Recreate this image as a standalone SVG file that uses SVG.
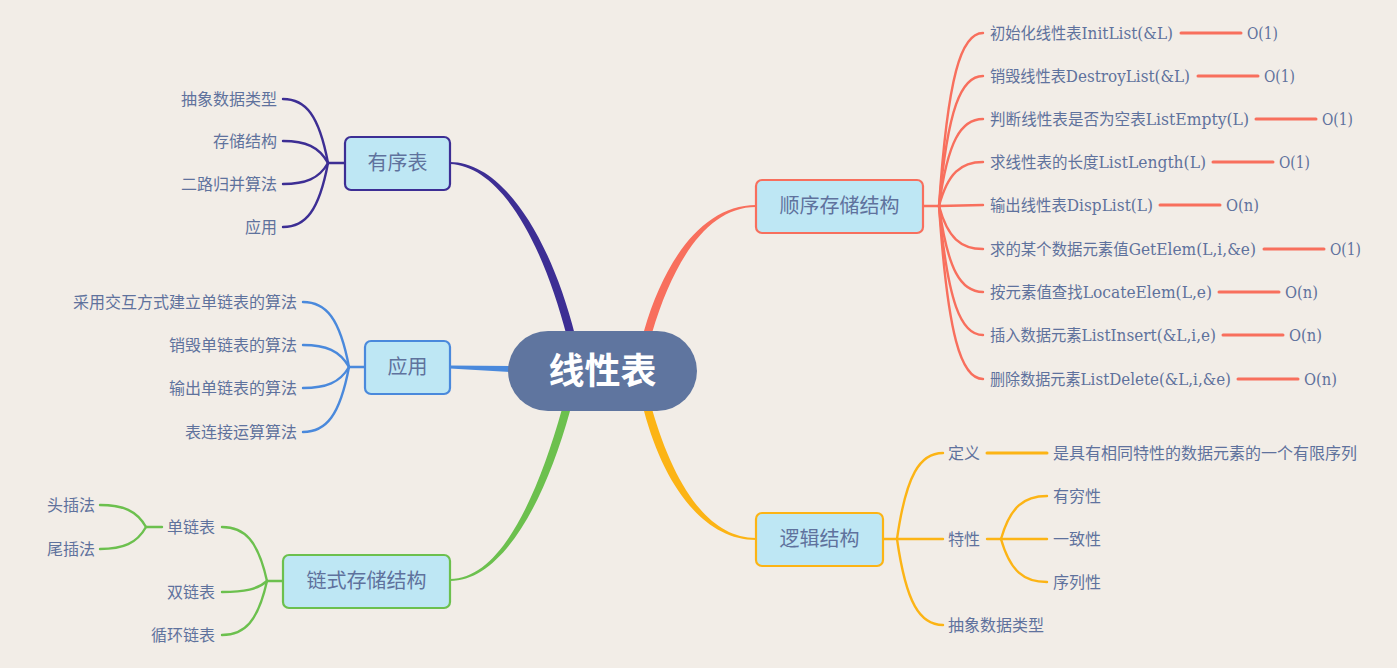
<svg xmlns="http://www.w3.org/2000/svg" width="1397" height="668" viewBox="0 0 1397 668">
<style>
.lbl{font-family:"Noto Sans CJK SC","Noto Sans",sans-serif;font-size:16px;fill:#5f729d}
.lat{font-family:"DejaVu Serif","Noto Sans CJK SC",serif;font-size:16px;fill:#5f729d}
.ntx{font-family:"Noto Sans CJK SC","Noto Sans",sans-serif;font-size:20px;fill:#5f729d;text-anchor:middle}
.end{text-anchor:end}
.node{fill:#bee7f4;stroke-width:2.2}
.c{fill:none;stroke-width:2.4;stroke-linecap:round}
.h{stroke-width:3}
.pu{stroke:#3d2e94}.bl{stroke:#4a89dc}.gr{stroke:#6cc04e}.co{stroke:#f86f5d}.or{stroke:#fcb415}
</style>
<rect width="1397" height="668" fill="#f2ede7"/>
<g id="connectors">
  <!-- main branches -->
  <path d="M450,162 C501,162 549,233 575,335 L567,337 C541,237 499,166 450,164 Z" fill="#3d2e94"/>
  <path d="M450,365.5 L512,366 L512,372 L450,368.5 Z" fill="#4a89dc"/>
  <path d="M450,581 C502,581 545,502 570,411 L562,409 C537,498 500,579 450,579 Z" fill="#6cc04e"/>
  <path d="M756,205 C704,205 665,258 644,331 L652,333 C673,262 707,207 756,207 Z" fill="#f86f5d"/>
  <path d="M756,540 C704,540 664,486 644,411 L652,409 C673,482 707,538 756,538 Z" fill="#fcb415"/>
  <!-- 有序表 children -->
  <g class="c pu">
    <path d="M345,163 L328,163"/>
    <path d="M328,163 C319,115 305.5,99 283,99"/>
    <path d="M328,163 C319,146.5 305.5,141 283,141"/>
    <path d="M328,163 C319,178.75 305.5,184 283,184"/>
    <path d="M328,163 C319,211 305.5,227 283,227"/>
  </g>
  <!-- 应用 children -->
  <g class="c bl">
    <path d="M365,367 L349,367"/>
    <path d="M349,367 C339.8,318.25 326,302 303,302"/>
    <path d="M349,367 C339.8,350.5 326,345 303,345"/>
    <path d="M349,367 C339.8,382.75 326,388 303,388"/>
    <path d="M349,367 C339.8,415.75 326,432 303,432"/>
  </g>
  <!-- 链式存储结构 children -->
  <g class="c gr">
    <path d="M283,581 L267,581"/>
    <path d="M267,581 C258,540.5 244.5,527 222,527"/>
    <path d="M267,581 C258,589.25 244.5,592 222,592"/>
    <path d="M267,581 C258,621.5 244.5,635 222,635"/>
    <path d="M162,527 L146,527"/>
    <path d="M146,527 C136.8,510.5 123,505 100,505"/>
    <path d="M146,527 C136.8,543.5 123,549 100,549"/>
  </g>
  <!-- 顺序存储结构 children -->
  <g class="c co">
    <path d="M923,206 L939,206"/>
    <path d="M939,206 C947.8,76.25 961,33 983,33"/>
    <path d="M939,206 C947.8,108.5 961,76 983,76"/>
    <path d="M939,206 C947.8,140.75 961,119 983,119"/>
    <path d="M939,206 C947.8,173 961,162 983,162"/>
    <path d="M939,206 L983,205"/>
    <path d="M939,206 C947.8,238.25 961,249 983,249"/>
    <path d="M939,206 C947.8,270.5 961,292 983,292"/>
    <path d="M939,206 C947.8,302.75 961,335 983,335"/>
    <path d="M939,206 C947.8,335.75 961,379 983,379"/>
    <path class="h" d="M1181,33 H1241"/>
    <path class="h" d="M1198,76 H1258"/>
    <path class="h" d="M1256,119 H1316"/>
    <path class="h" d="M1213,162 H1273"/>
    <path class="h" d="M1160,205 H1220"/>
    <path class="h" d="M1264,249 H1324"/>
    <path class="h" d="M1219,292 H1279"/>
    <path class="h" d="M1223,335 H1283"/>
    <path class="h" d="M1238,379 H1298"/>
  </g>
  <!-- 逻辑结构 children -->
  <g class="c or">
    <path d="M883,539 L897,539"/>
    <path d="M897,539 C906.2,474.5 920,453 943,453"/>
    <path d="M897,539 L943,539"/>
    <path d="M897,539 C906.2,603.5 920,625 943,625"/>
    <path class="h" d="M987,453 H1047"/>
    <path d="M987,539 L1001,539"/>
    <path d="M1001,539 C1010.2,506.75 1024,496 1047,496"/>
    <path d="M1001,539 L1047,539"/>
    <path d="M1001,539 C1010.2,571.25 1024,582 1047,582"/>
  </g>
</g>
<g id="center">
  <rect x="508" y="331" width="189" height="80" rx="40" fill="#5f759f"/>
  <text x="602.5" y="384" style="font-family:'Noto Sans CJK SC',sans-serif;font-size:36px;font-weight:bold;fill:#ffffff;text-anchor:middle">线性表</text>
</g>
<g id="n-youxubiao">
  <rect class="node pu" x="345" y="137" width="105" height="53" rx="6"/>
  <text class="ntx" x="397.5" y="170">有序表</text>
</g>
<g id="n-yingyong">
  <rect class="node bl" x="365" y="341" width="85" height="53" rx="6"/>
  <text class="ntx" x="407.5" y="374">应用</text>
</g>
<g id="n-lianshi">
  <rect class="node gr" x="283" y="555" width="167" height="53" rx="6"/>
  <text class="ntx" x="366.5" y="588">链式存储结构</text>
</g>
<g id="n-shunxu">
  <rect class="node co" x="756" y="180" width="167" height="53" rx="6"/>
  <text class="ntx" x="839.5" y="213">顺序存储结构</text>
</g>
<g id="n-luoji">
  <rect class="node or" x="756" y="513" width="127" height="53" rx="6"/>
  <text class="ntx" x="819.5" y="546">逻辑结构</text>
</g>
<g id="l-youxubiao">
  <text class="lbl end" x="277" y="104.5">抽象数据类型</text>
  <text class="lbl end" x="277" y="146.5">存储结构</text>
  <text class="lbl end" x="277" y="189.5">二路归并算法</text>
  <text class="lbl end" x="277" y="232.5">应用</text>
</g>
<g id="l-yingyong">
  <text class="lbl end" x="297" y="307.5">采用交互方式建立单链表的算法</text>
  <text class="lbl end" x="297" y="350.5">销毁单链表的算法</text>
  <text class="lbl end" x="297" y="393.5">输出单链表的算法</text>
  <text class="lbl end" x="297" y="437.5">表连接运算算法</text>
</g>
<g id="l-lianshi">
  <text class="lbl end" x="215" y="532.5">单链表</text>
  <text class="lbl end" x="215" y="597.5">双链表</text>
  <text class="lbl end" x="215" y="640.5">循环链表</text>
  <text class="lbl end" x="95" y="510.5">头插法</text>
  <text class="lbl end" x="95" y="554.5">尾插法</text>
</g>
<g id="l-shunxu">
  <text class="lat" x="990" y="38.5" textLength="183" lengthAdjust="spacingAndGlyphs">初始化线性表InitList(&amp;L)</text>
  <text class="lat" x="990" y="81.5" textLength="200" lengthAdjust="spacingAndGlyphs">销毁线性表DestroyList(&amp;L)</text>
  <text class="lat" x="990" y="124.5" textLength="259" lengthAdjust="spacingAndGlyphs">判断线性表是否为空表ListEmpty(L)</text>
  <text class="lat" x="990" y="167.5" textLength="216" lengthAdjust="spacingAndGlyphs">求线性表的长度ListLength(L)</text>
  <text class="lat" x="990" y="210.5" textLength="163" lengthAdjust="spacingAndGlyphs">输出线性表DispList(L)</text>
  <text class="lat" x="990" y="254.5" textLength="266" lengthAdjust="spacingAndGlyphs">求的某个数据元素值GetElem(L,i,&amp;e)</text>
  <text class="lat" x="990" y="297.5" textLength="222" lengthAdjust="spacingAndGlyphs">按元素值查找LocateElem(L,e)</text>
  <text class="lat" x="990" y="340.5" textLength="226" lengthAdjust="spacingAndGlyphs">插入数据元素ListInsert(&amp;L,i,e)</text>
  <text class="lat" x="990" y="384.5" textLength="241" lengthAdjust="spacingAndGlyphs">删除数据元素ListDelete(&amp;L,i,&amp;e)</text>
  <text class="lat" x="1247" y="38.5" textLength="31" lengthAdjust="spacingAndGlyphs">O(1)</text>
  <text class="lat" x="1264" y="81.5" textLength="31" lengthAdjust="spacingAndGlyphs">O(1)</text>
  <text class="lat" x="1322" y="124.5" textLength="31" lengthAdjust="spacingAndGlyphs">O(1)</text>
  <text class="lat" x="1279" y="167.5" textLength="31" lengthAdjust="spacingAndGlyphs">O(1)</text>
  <text class="lat" x="1226" y="210.5" textLength="33" lengthAdjust="spacingAndGlyphs">O(n)</text>
  <text class="lat" x="1330" y="254.5" textLength="31" lengthAdjust="spacingAndGlyphs">O(1)</text>
  <text class="lat" x="1285" y="297.5" textLength="33" lengthAdjust="spacingAndGlyphs">O(n)</text>
  <text class="lat" x="1289" y="340.5" textLength="33" lengthAdjust="spacingAndGlyphs">O(n)</text>
  <text class="lat" x="1304" y="384.5" textLength="33" lengthAdjust="spacingAndGlyphs">O(n)</text>
</g>
<g id="l-luoji">
  <text class="lbl" x="948" y="458.5">定义</text>
  <text class="lbl" x="948" y="544.5">特性</text>
  <text class="lbl" x="948" y="630.5">抽象数据类型</text>
  <text class="lbl" x="1053" y="458.5">是具有相同特性的数据元素的一个有限序列</text>
  <text class="lbl" x="1053" y="501.5">有穷性</text>
  <text class="lbl" x="1053" y="544.5">一致性</text>
  <text class="lbl" x="1053" y="587.5">序列性</text>
</g>
</svg>
